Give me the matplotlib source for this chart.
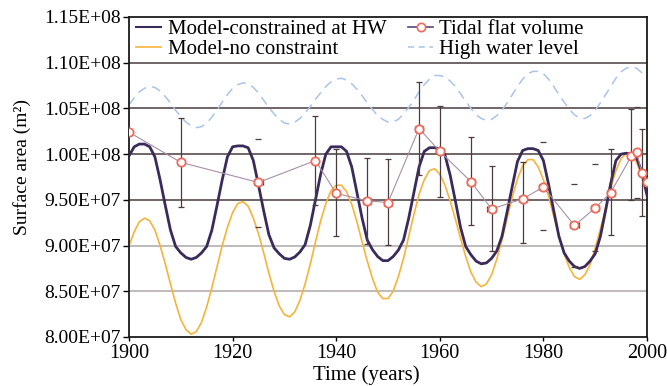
import numpy as np
import matplotlib
matplotlib.use('Agg')
from matplotlib import pyplot as plt
from matplotlib.lines import Line2D
from matplotlib.ticker import FuncFormatter

plt.rcParams['font.family'] = 'Liberation Serif'

# yearly model output, surface area in units of 1e7 m2
years = np.arange(1900, 2001)

constrained = [9.98, 10.08, 10.11, 10.11, 10.08, 9.97, 9.72, 9.44, 9.17, 8.99,
               8.92, 8.87, 8.85, 8.87, 8.92, 8.99, 9.17, 9.44, 9.72, 9.97,
               10.08, 10.09, 10.09, 10.07, 9.93, 9.66, 9.38, 9.12, 8.975, 8.91,
               8.86, 8.85, 8.875, 8.93, 9.01, 9.22, 9.50, 9.78, 10.00, 10.08,
               10.08, 10.08, 10.03, 9.86, 9.58, 9.30, 9.06, 8.955, 8.88, 8.835,
               8.835, 8.88, 8.95, 9.06, 9.30, 9.58, 9.86, 10.03, 10.07, 10.07,
               10.06, 9.99, 9.77, 9.49, 9.20, 8.99, 8.90, 8.83, 8.80, 8.81,
               8.86, 8.94, 9.10, 9.37, 9.65, 9.92, 10.04, 10.06, 10.06, 10.04,
               9.93, 9.67, 9.38, 9.10, 8.92, 8.83, 8.77, 8.75, 8.77, 8.83,
               8.91, 9.10, 9.38, 9.68, 9.93, 10.00, 10.01, 10.00, 9.96, 9.80,
               9.55]

no_constraint = [9.00, 9.15, 9.26, 9.30, 9.27, 9.17, 9.00, 8.80, 8.58, 8.37,
                 8.19, 8.08, 8.03, 8.06, 8.16, 8.33, 8.54, 8.77, 9.00, 9.20,
                 9.36, 9.46, 9.48, 9.43, 9.30, 9.13, 8.92, 8.70, 8.50, 8.34,
                 8.245, 8.22, 8.275, 8.40, 8.58, 8.80, 9.04, 9.27, 9.46, 9.60,
                 9.66, 9.66, 9.59, 9.45, 9.26, 9.04, 8.83, 8.64, 8.49, 8.42,
                 8.42, 8.50, 8.66, 8.86, 9.10, 9.34, 9.56, 9.72, 9.82, 9.84,
                 9.78, 9.66, 9.49, 9.29, 9.08, 8.88, 8.71, 8.60, 8.55, 8.58,
                 8.68, 8.85, 9.06, 9.30, 9.53, 9.73, 9.87, 9.94, 9.94, 9.86,
                 9.72, 9.54, 9.32, 9.11, 8.91, 8.76, 8.66, 8.63, 8.68, 8.79,
                 8.97, 9.18, 9.41, 9.63, 9.82, 9.95, 10.01, 9.99, 9.91, 9.76,
                 9.57]

high_water = [10.54, 10.615, 10.68, 10.72, 10.74, 10.73, 10.69, 10.63, 10.56, 10.48,
              10.41, 10.35, 10.31, 10.29, 10.30, 10.34, 10.405, 10.48, 10.57, 10.65,
              10.72, 10.76, 10.78, 10.77, 10.73, 10.67, 10.59, 10.51, 10.44, 10.38,
              10.34, 10.33, 10.35, 10.39, 10.45, 10.52, 10.60, 10.67, 10.74, 10.79,
              10.82, 10.83, 10.81, 10.77, 10.71, 10.64, 10.56, 10.49, 10.42, 10.38,
              10.35, 10.355, 10.38, 10.44, 10.51, 10.59, 10.68, 10.76, 10.82, 10.86,
              10.86, 10.845, 10.80, 10.74, 10.66, 10.58, 10.50, 10.43, 10.39, 10.37,
              10.38, 10.42, 10.48, 10.56, 10.65, 10.74, 10.82, 10.88, 10.905, 10.905,
              10.88, 10.82, 10.74, 10.65, 10.57, 10.49, 10.43, 10.395, 10.39, 10.42,
              10.48, 10.56, 10.65, 10.74, 10.83, 10.90, 10.94, 10.955, 10.94, 10.89,
              10.84]

# tidal flat observations
obs_years = [1900, 1910, 1925, 1936, 1940, 1946, 1950, 1956, 1960, 1966,
             1970, 1976, 1980, 1986, 1990, 1993, 1997, 1998, 1999, 2000]
obs_area = [10.24, 9.91, 9.69, 9.93, 9.57, 9.49, 9.47, 10.28, 10.03, 9.70,
            9.40, 9.51, 9.64, 9.22, 9.41, 9.58, 9.98, 10.02, 9.79, 9.70]
err_low = [0, 0.49, 0.49, 0.49, 0.47, 0.47, 0.46, 0.51, 0.50, 0.48,
           0.46, 0.48, 0.47, 0.45, 0.47, 0.47, 0.48, 0.50, 0.47, 0]
err_high = [0, 0.49, 0.48, 0.49, 0.49, 0.47, 0.48, 0.51, 0.50, 0.49,
            0.47, 0.40, 0.49, 0.45, 0.48, 0.48, 0.51, 0.50, 0.49, 0]
err_year = [0, 0, 0.8, 0, 0, 0.8, 0.8, 0.8, 0.8, 0.8,
            0.8, 0.8, 0.8, 0.8, 0.8, 0.8, 0.6, 0.6, 0.6, 0]
# bars whose vertical line is not visible, only the caps
caps_only = [1925, 1980, 1986, 1990, 1998]

scale = 1e7
constrained = np.array(constrained) * scale
no_constraint = np.array(no_constraint) * scale
high_water = np.array(high_water) * scale
obs_area = np.array(obs_area) * scale
err_low = np.array(err_low) * scale
err_high = np.array(err_high) * scale
err_year = np.array(err_year)
obs_years = np.array(obs_years)

fig = plt.figure(figsize=(6.67, 3.86), dpi=100)
ax = fig.add_axes([0.1934, 0.127, 0.7766, 0.829])

# gridlines, darker at the top like the original
grid_vals = [1.10e8, 1.05e8, 1.00e8, 9.5e7, 9.0e7, 8.5e7]
grid_cols = ['#574c4c', '#574c4c', '#574c4c', '#574c4c', '#b5afaf', '#b5afaf']
for gv, gc in zip(grid_vals, grid_cols):
    ax.axhline(gv, color=gc, lw=1.2, zorder=0)

ax.plot(years, no_constraint, color='#f7b33a', lw=1.2, zorder=2)
ax.plot(years, constrained, color='#3b2b5b', lw=2.0, zorder=3)
ax.plot(years, high_water, color='#a9c4ea', lw=1.1, dashes=(6, 4), zorder=2)

ecol = '#4a3c3c'
full = ~np.isin(obs_years, caps_only)
ax.errorbar(obs_years[full], obs_area[full],
            yerr=[err_low[full], err_high[full]], xerr=err_year[full],
            fmt='none', ecolor=ecol, elinewidth=0.9, capsize=2.5, capthick=0.9, zorder=4)
part = ~full
ax.errorbar(obs_years[part], obs_area[part],
            yerr=[err_low[part], err_high[part]],
            fmt='none', ecolor=ecol, elinewidth=0, capsize=2.5, capthick=0.9, zorder=4)
ax.errorbar(obs_years[part], obs_area[part], xerr=err_year[part],
            fmt='none', ecolor=ecol, elinewidth=0.9, capsize=2.5, capthick=0.9, zorder=4)
ax.plot(obs_years, obs_area, color='#a88fa6', lw=0.8, marker='o', ms=6,
        mfc='white', mec='#ef6a5a', mew=1.3, zorder=5)

ax.set_xlim(1900, 2000)
ax.set_ylim(8.0e7, 1.15e8)
ax.set_xticks([1900, 1920, 1940, 1960, 1980, 2000])
ax.set_yticks(np.arange(8.0e7, 1.151e8, 0.5e7))
ax.yaxis.set_major_formatter(FuncFormatter(lambda v, p: '%.2E' % v))
ax.tick_params(axis='y', labelsize=14, length=4, width=1, direction='out', pad=2)
ax.tick_params(axis='x', labelsize=14.5, length=3, width=1, direction='out', pad=2)
for s in ax.spines.values():
    s.set_linewidth(1.3)
    s.set_color('#1a1a1a')

ax.set_xlabel('Time (years)', fontsize=15)
ax.set_ylabel('Surface area (m²)', fontsize=14)
ax.xaxis.set_label_coords(0.458, -0.088)
ax.yaxis.set_label_coords(-0.19, 0.53)

handles = [Line2D([], [], color='#3b2b5b', lw=1.5),
           Line2D([], [], color='#f7b33a', lw=1.2),
           Line2D([], [], color='#5b4283', lw=1.2, marker='o', ms=6,
                  mfc='white', mec='#ef6a5a', mew=1.2),
           Line2D([], [], color='#a9c4ea', lw=1.1, dashes=(4, 3))]
labels = ['Model-constrained at HW', 'Model-no constraint',
          'Tidal flat volume', 'High water level']
ax.legend(handles, labels, ncol=2, loc='upper left', bbox_to_anchor=(0.012, 0.995),
          frameon=False, fontsize=15, handlelength=1.2, handletextpad=0.3,
          columnspacing=1.05, labelspacing=0.0, borderpad=0.05, borderaxespad=0)

fig.savefig('out.png', dpi=100)
